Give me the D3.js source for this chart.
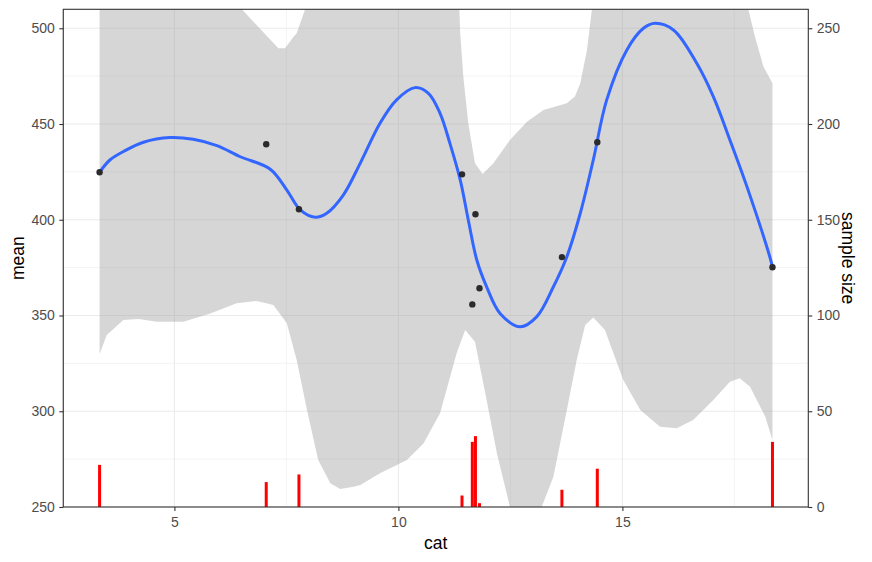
<!DOCTYPE html>
<html>
<head>
<meta charset="utf-8">
<script src="https://cdn.jsdelivr.net/npm/d3@7"></script>
<style>
  body { margin: 0; background: #fff; }
  text { font-family: "Liberation Sans", Arial, sans-serif; }
</style>
</head>
<body>
<div id="chart"></div>
<script>
// observed points (cat, mean) and their sample size
const cat = [3.33, 7.05, 7.78, 11.42, 11.65, 11.72, 11.81, 13.65, 14.44, 18.35];
const meanVal = [424.8, 439.4, 405.5, 423.7, 355.8, 402.9, 364.2, 380.5, 440.5, 375.2];
const sampleSize = [22, 13, 17, 6, 34, 37, 2, 9, 20, 34];

// loess smooth line
const smoothX = [3.33, 3.56, 3.9, 4.31, 4.9, 5.42, 5.95, 6.47, 7.14, 7.51, 7.81, 8.14, 8.4, 8.77,
  9.15, 9.59, 9.96, 10.37, 10.67, 10.93, 11.15, 11.38, 11.56, 11.75, 11.97, 12.27, 12.72, 13.09,
  13.46, 13.76, 14.06, 14.35, 14.65, 15.1, 15.47, 15.73, 16.14, 16.66, 17.03, 17.4, 17.78, 18.3, 18.35];
const smoothY = [424.8, 431.2, 436.1, 440.5, 442.9, 442.0, 438.7, 432.9, 426.4, 415.5, 405.1, 401.3, 403.4, 412.9,
  429.6, 450.4, 462.6, 469.0, 466.0, 455.6, 439.9, 420.8, 399.9, 379.0, 365.0, 351.1, 344.1, 349.4,
  365.0, 380.7, 403.4, 431.2, 462.6, 488.7, 500.0, 502.6, 499.1, 481.7, 464.3, 441.7, 417.3, 379.9, 375.2];

// confidence band, upper edge (values above 510 are outside the panel)
const upperX = [3.33, 6.2, 6.5, 7.32, 7.47, 7.66, 7.73, 7.92, 8.3, 11.0, 11.36, 11.38, 11.45, 11.56,
  11.71, 11.88, 12.12, 12.49, 12.87, 13.24, 13.76, 13.94, 14.06, 14.21, 14.32, 14.6, 17.5, 17.81,
  17.96, 18.15, 18.35];
const upperY = [540, 530, 510, 489.6, 489.6, 495.6, 497.4, 510, 530, 530, 510, 497.4, 474.7, 450.4,
  429.5, 423.9, 429.5, 441.7, 451.2, 457.3, 460.8, 464.3, 471.3, 488.7, 510, 530, 530, 510,
  495.6, 479.9, 471.3];

// confidence band, lower edge
const lowerX = [3.33, 3.49, 3.86, 4.2, 4.61, 5.2, 5.8, 6.39, 6.84, 7.21, 7.51, 7.73, 7.96, 8.21,
  8.48, 8.7, 9.0, 9.15, 9.59, 10.19, 10.56, 10.93, 11.3, 11.49, 11.71, 11.94, 12.2, 12.49, 12.83,
  13.2, 13.46, 13.76, 13.98, 14.17, 14.35, 14.61, 15.02, 15.4, 15.84, 16.21, 16.58, 17.03, 17.4,
  17.62, 17.85, 18.19, 18.35];
const lowerY = [329.9, 339.8, 347.6, 348.2, 346.8, 346.8, 351.1, 356.4, 357.6, 355.5, 345.9, 326.7, 300.6, 274.5,
  262.4, 259.4, 260.6, 261.5, 267.6, 274.5, 283.2, 298.9, 330.3, 342.4, 336.3, 309.4, 278.0, 250.1, 235,
  250.1, 265.8, 300.6, 326.7, 345.0, 349.0, 342.4, 316.3, 300.6, 291.9, 291.1, 295.4, 305.9, 315.4,
  317.2, 312.8, 297.1, 285.0];

const xTicks = [5, 10, 15];
const xMinor = [2.5, 7.5, 12.5, 17.5];
const yTicks = [250, 300, 350, 400, 450, 500];
const yMinor = [275, 325, 375, 425, 475];
const sizeTicks = [0, 50, 100, 150, 200, 250];

// set the dimensions and margins of the graph
const W = 872, H = 562;
const margin = { top: 9.3, right: 63.7, bottom: 55, left: 63.3 },
  width = W - margin.left - margin.right,
  height = H - margin.top - margin.bottom;

const svg = d3.select("#chart").append("svg")
  .attr("width", W).attr("height", H)
  .append("g")
  .attr("transform", `translate(${margin.left},${margin.top})`);

const x = d3.scaleLinear().domain([2.52, 19.15]).range([0, width]);
const y = d3.scaleLinear().domain([250, 509.9]).range([height, 0]);
// secondary axis: sample size = mean - 250
const ySize = d3.scaleLinear().domain([0, 259.9]).range([height, 0]);

svg.append("defs").append("clipPath").attr("id", "panel")
  .append("rect").attr("width", width).attr("height", height);

// grid lines
const grid = svg.append("g");
xMinor.forEach((v) => grid.append("line")
  .attr("x1", x(v)).attr("x2", x(v)).attr("y1", 0).attr("y2", height)
  .attr("stroke", "#ebebeb").attr("stroke-width", 0.6));
yMinor.forEach((v) => grid.append("line")
  .attr("x1", 0).attr("x2", width).attr("y1", y(v)).attr("y2", y(v))
  .attr("stroke", "#ebebeb").attr("stroke-width", 0.6));
xTicks.forEach((v) => grid.append("line")
  .attr("x1", x(v)).attr("x2", x(v)).attr("y1", 0).attr("y2", height)
  .attr("stroke", "#ebebeb").attr("stroke-width", 1.1));
yTicks.forEach((v) => grid.append("line")
  .attr("x1", 0).attr("x2", width).attr("y1", y(v)).attr("y2", y(v))
  .attr("stroke", "#ebebeb").attr("stroke-width", 1.1));

const plot = svg.append("g").attr("clip-path", "url(#panel)");

// ribbon: upper edge forward, lower edge back
const upper = upperX.map((v, i) => [v, upperY[i]]);
const lower = lowerX.map((v, i) => [v, lowerY[i]]).reverse();
const band = d3.line().x((d) => x(d[0])).y((d) => y(d[1]));
plot.append("path")
  .attr("d", band(upper.concat(lower)) + "Z")
  .attr("fill", "#999999")
  .attr("fill-opacity", 0.4);

// smooth line
const smooth = d3.line()
  .x((d) => x(d[0])).y((d) => y(d[1]))
  .curve(d3.curveCatmullRom);
plot.append("path")
  .attr("d", smooth(smoothX.map((v, i) => [v, smoothY[i]])))
  .attr("fill", "none")
  .attr("stroke", "#3366ff")
  .attr("stroke-width", 3);

// points
cat.forEach((c, i) => {
  plot.append("circle")
    .attr("cx", x(c)).attr("cy", y(meanVal[i]))
    .attr("r", 3.2)
    .attr("fill", "#2b2b2b");
});

// sample size bars
const barW = 0.067;
cat.forEach((c, i) => {
  plot.append("rect")
    .attr("x", x(c - barW / 2))
    .attr("width", x(c + barW / 2) - x(c - barW / 2))
    .attr("y", ySize(sampleSize[i]))
    .attr("height", ySize(0) - ySize(sampleSize[i]))
    .attr("fill", "red");
});

// panel border
svg.append("rect")
  .attr("width", width).attr("height", height)
  .attr("fill", "none").attr("stroke", "#333333").attr("stroke-width", 1.1);

// axes
const styleAxis = (g) => {
  g.select(".domain").remove();
  g.selectAll(".tick line").attr("stroke", "#333333").attr("stroke-width", 1.1);
  g.selectAll(".tick text").attr("fill", "#4d4d4d").style("font-size", "14px");
};

svg.append("g")
  .attr("transform", `translate(0,${height})`)
  .call(d3.axisBottom(x).tickValues(xTicks).tickSize(4).tickPadding(6))
  .call(styleAxis);

svg.append("g")
  .call(d3.axisLeft(y).tickValues(yTicks).tickSize(4).tickPadding(4.5))
  .call(styleAxis);

svg.append("g")
  .attr("transform", `translate(${width},0)`)
  .call(d3.axisRight(ySize).tickValues(sizeTicks).tickSize(4).tickPadding(4.5))
  .call(styleAxis);

// axis titles
svg.append("text")
  .attr("x", width / 2).attr("y", height + 42)
  .attr("text-anchor", "middle")
  .style("font-size", "17.5px")
  .text("cat");

svg.append("text")
  .attr("transform", `translate(${-margin.left + 24},${height / 2}) rotate(-90)`)
  .attr("text-anchor", "middle")
  .style("font-size", "17.5px")
  .text("mean");

svg.append("text")
  .attr("transform", `translate(${width + 34},${height / 2}) rotate(90)`)
  .attr("text-anchor", "middle")
  .style("font-size", "17.5px")
  .text("sample size");
</script>
</body>
</html>
